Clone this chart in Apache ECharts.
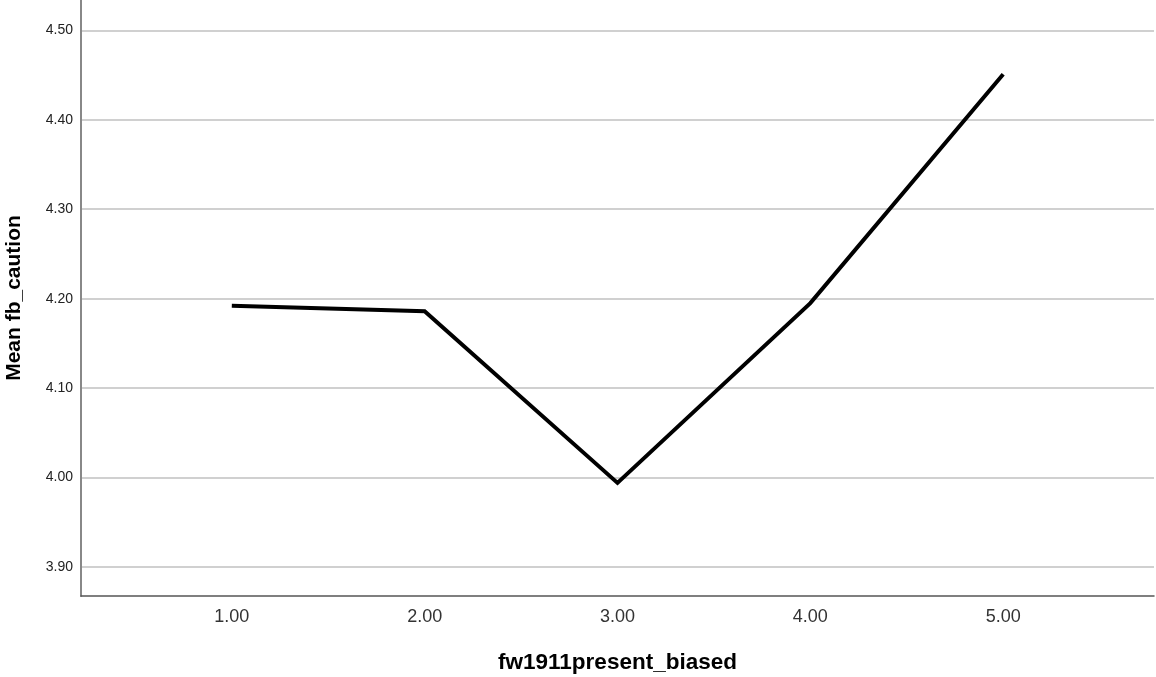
<!DOCTYPE html>
<html>
<head>
<meta charset="utf-8">
<script src="https://cdn.jsdelivr.net/npm/echarts@6/dist/echarts.min.js"></script>
<style>
html,body{margin:0;padding:0;background:#fff;}
#chart{width:1156px;height:677px;}
</style>
</head>
<body>
<div id="chart"></div>
<script>
const categories = [1, 2, 3, 4, 5];
const meanValues = [4.192, 4.186, 3.994, 4.195, 4.451];
const yTicks = [3.9, 4.0, 4.1, 4.2, 4.3, 4.4, 4.5];
const xTitle = 'fw1911present_biased';
const yTitle = 'Mean fb_caution';

const chart = echarts.init(document.getElementById('chart'), null, {renderer: 'canvas'});
chart.setOption({
  animation: false,
  backgroundColor: '#ffffff',
  grid: {left: 81, right: 2, top: 0, bottom: 81, containLabel: false, outerBoundsMode: 'none'},
  xAxis: {
    type: 'value',
    min: 0.218,
    max: 5.782,
    name: xTitle,
    nameLocation: 'middle',
    nameGap: 55,
    nameTextStyle: {fontFamily: 'Liberation Sans', fontSize: 22.5, fontWeight: 'bold', color: '#000'},
    axisLine: {show: true, onZero: false, lineStyle: {color: '#555', width: 1.5}},
    axisTick: {show: false, customValues: categories},
    axisLabel: {customValues: categories, fontFamily: 'Liberation Sans', fontSize: 18, color: '#333', margin: 12,
      formatter: v => v.toFixed(2)},
    splitLine: {show: false}
  },
  yAxis: {
    type: 'value',
    min: 3.8675,
    max: 4.534,
    name: yTitle,
    nameLocation: 'middle',
    nameGap: 56,
    nameTextStyle: {fontFamily: 'Liberation Sans', fontSize: 21, fontWeight: 'bold', color: '#000'},
    axisLine: {show: true, lineStyle: {color: '#888', width: 2}},
    axisTick: {show: false, customValues: yTicks},
    axisLabel: {customValues: yTicks, fontFamily: 'Liberation Sans', fontSize: 14, color: '#222', margin: 8,
      formatter: v => v.toFixed(2)},
    splitLine: {show: true, lineStyle: {color: '#d0d0d0', width: 2}}
  },
  series: [{
    type: 'line',
    data: categories.map((c, i) => [c, meanValues[i]]),
    showSymbol: false,
    symbol: 'none',
    lineStyle: {color: '#000', width: 4, join: 'miter', cap: 'butt'}
  }]
});
</script>
</body>
</html>
